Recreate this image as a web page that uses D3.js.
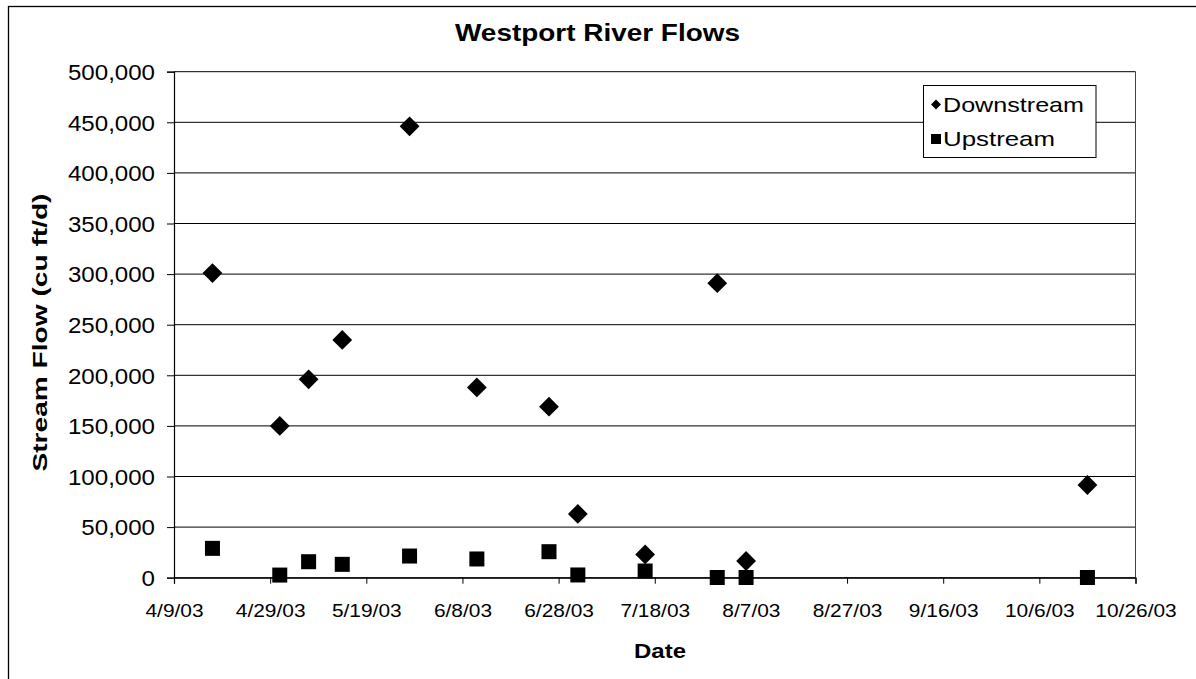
<!DOCTYPE html>
<html>
<head>
<meta charset="utf-8">
<script src="https://cdn.jsdelivr.net/npm/d3@7"></script>
<style>
  html, body { margin: 0; padding: 0; background: #fff; }
  svg { display: block; font-family: "Liberation Sans", Arial, sans-serif; }
</style>
</head>
<body>
<svg id="chart" width="1196" height="679"></svg>
<script>
// Sampling dates (2003) and measured stream flows, cu ft/d
const sampleDates = ["4/17/03", "5/1/03", "5/7/03", "5/14/03", "5/28/03", "6/11/03",
                     "6/26/03", "7/2/03", "7/16/03", "7/31/03", "8/6/03", "10/16/03"];
const downstream = [301000, 150000, 196000, 235000, 446000, 188000,
                    169000, 63000, 23000, 291000, 16500, 91600];
const upstream   = [29000, 2600, 15800, 13200, 21400, 18500,
                    25700, 2700, 6600, 200, 200, 200];

const xTickLabels = ["4/9/03", "4/29/03", "5/19/03", "6/8/03", "6/28/03", "7/18/03",
                     "8/7/03", "8/27/03", "9/16/03", "10/6/03", "10/26/03"];
const yTickValues = [0, 50000, 100000, 150000, 200000, 250000, 300000, 350000, 400000, 450000, 500000];

const seriesNames = ["Downstream", "Upstream"];

const parseDate = d3.utcParse("%m/%d/%y");

const svg = d3.select("#chart");
const W = 1196, H = 679;
const plot = { left: 174, right: 1135.5, top: 71.7, bottom: 577.7 };

// Widen glyphs horizontally (factor of the natural width)
function stretch(sel, k) {
  sel.each(function () {
    const w = this.getComputedTextLength();
    this.setAttribute("textLength", w * k);
    this.setAttribute("lengthAdjust", "spacingAndGlyphs");
  });
}
// Fit a text to a given run length
function fitTo(sel, len) {
  sel.attr("textLength", len).attr("lengthAdjust", "spacingAndGlyphs");
}

svg.append("rect").attr("width", W).attr("height", H).attr("fill", "#fff");

// Outer chart frame (runs past the right and bottom edges)
svg.append("rect")
  .attr("x", 8.5).attr("y", 6.5)
  .attr("width", W + 20).attr("height", H + 20)
  .attr("fill", "none").attr("stroke", "#000").attr("stroke-width", 1.3);

const x = d3.scaleUtc()
  .domain([parseDate(xTickLabels[0]), parseDate(xTickLabels[xTickLabels.length - 1])])
  .range([plot.left, plot.right]);
const y = d3.scaleLinear()
  .domain([0, 500000])
  .range([plot.bottom, plot.top]);

// Horizontal gridlines
svg.append("g")
  .selectAll("line")
  .data(yTickValues)
  .join("line")
  .attr("x1", plot.left).attr("x2", plot.right)
  .attr("y1", d => y(d)).attr("y2", d => y(d))
  .attr("stroke", "#000").attr("stroke-width", 1);

// Plot area right edge
svg.append("line")
  .attr("x1", plot.right).attr("x2", plot.right)
  .attr("y1", plot.top).attr("y2", plot.bottom)
  .attr("stroke", "#444").attr("stroke-width", 1);

// Y axis
const yAxis = svg.append("g")
  .attr("transform", `translate(${plot.left},0)`)
  .call(d3.axisLeft(y).tickValues(yTickValues).tickSize(7).tickPadding(12)
        .tickFormat(d3.format(",")));
yAxis.select(".domain").attr("stroke", "#000").attr("stroke-width", 1.2);
yAxis.selectAll(".tick line").attr("stroke", "#000");
yAxis.selectAll(".tick text")
  .attr("font-size", 21.5).attr("fill", "#000")
  .attr("font-family", "Liberation Sans, Arial, sans-serif")
  .attr("dy", "0.36em");
stretch(yAxis.selectAll(".tick text"), 1.12);

// X axis
const xAxis = svg.append("g")
  .attr("transform", `translate(0,${plot.bottom})`)
  .call(d3.axisBottom(x).tickValues(xTickLabels.map(parseDate)).tickSize(6).tickPadding(0)
        .tickFormat((d, i) => xTickLabels[i]));
xAxis.select(".domain").attr("stroke", "#000").attr("stroke-width", 1.2);
xAxis.selectAll(".tick line").attr("stroke", "#000");
xAxis.selectAll(".tick text")
  .attr("font-size", 19).attr("fill", "#000")
  .attr("font-family", "Liberation Sans, Arial, sans-serif")
  .attr("dy", 0).attr("y", 39.5);
stretch(xAxis.selectAll(".tick text"), 1.1);

// Markers
const diamond = d3.symbol().type(d3.symbolDiamond2);
const rows = sampleDates.map((d, i) => ({ date: parseDate(d), down: downstream[i], up: upstream[i] }));

svg.append("g").selectAll("rect")
  .data(rows)
  .join("rect")
  .attr("x", d => x(d.date) - 7.5)
  .attr("y", d => y(d.up) - 7.5)
  .attr("width", 15).attr("height", 15)
  .attr("fill", "#000");

svg.append("g").selectAll("path")
  .data(rows)
  .join("path")
  .attr("transform", d => `translate(${x(d.date)},${y(d.down)})`)
  .attr("d", diamond.size(250)())
  .attr("fill", "#000");

// Title
const title = svg.append("text")
  .attr("x", 597.5).attr("y", 40.5)
  .attr("text-anchor", "middle")
  .attr("font-size", 24.5).attr("font-weight", "bold")
  .text("Westport River Flows");
fitTo(title, 285);

// Axis titles
const xTitle = svg.append("text")
  .attr("x", 660).attr("y", 658)
  .attr("text-anchor", "middle")
  .attr("font-size", 21).attr("font-weight", "bold")
  .text("Date");
fitTo(xTitle, 52);

const yTitle = svg.append("text")
  .attr("transform", "translate(46.5,332.5) rotate(-90)")
  .attr("text-anchor", "middle")
  .attr("font-size", 21).attr("font-weight", "bold")
  .text("Stream Flow (cu ft/d)");
fitTo(yTitle, 278);

// Legend
const legend = svg.append("g");
legend.append("rect")
  .attr("x", 923.5).attr("y", 85.5)
  .attr("width", 172.5).attr("height", 72)
  .attr("fill", "#fff").attr("stroke", "#000").attr("stroke-width", 1);

const legendY = [104.5, 139];
const legendLen = [141, 112];
seriesNames.forEach((name, i) => {
  if (i === 0) {
    legend.append("path")
      .attr("transform", `translate(936,${legendY[i]})`)
      .attr("d", diamond.size(64)())
      .attr("fill", "#000");
  } else {
    legend.append("rect")
      .attr("x", 931).attr("y", legendY[i] - 5)
      .attr("width", 10).attr("height", 10)
      .attr("fill", "#000");
  }
  const t = legend.append("text")
    .attr("x", 943).attr("y", legendY[i] + 7)
    .attr("font-size", 21)
    .text(name);
  fitTo(t, legendLen[i]);
});
</script>
</body>
</html>
